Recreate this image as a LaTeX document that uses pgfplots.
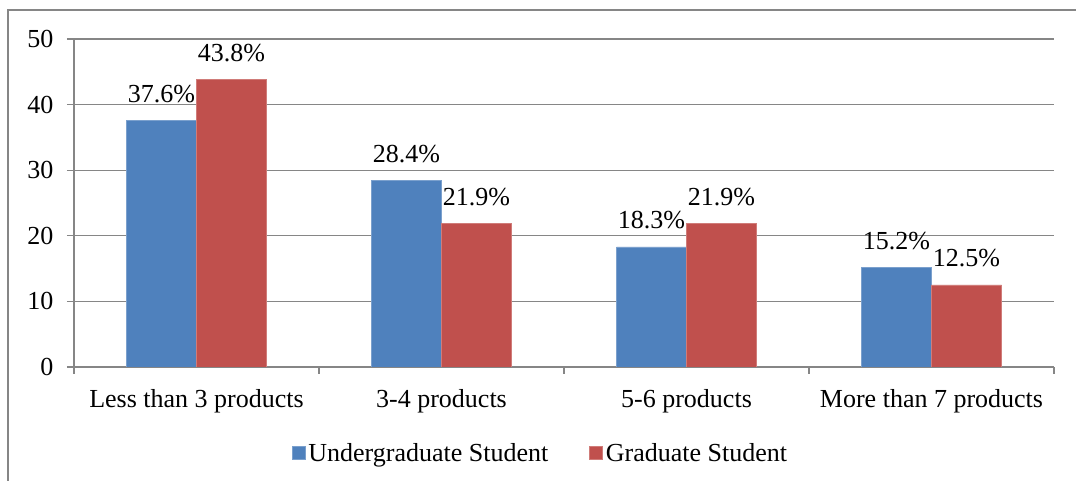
\documentclass[border=0pt]{standalone}
\usepackage{fontspec}
\setmainfont{Liberation Serif}
\usepackage{pgfplots}
\pgfplotsset{compat=1.18}
\definecolor{ugblue}{HTML}{4F81BD}
\definecolor{grred}{HTML}{C0504D}
\definecolor{linegray}{HTML}{868686}

\begin{document}
\begin{tikzpicture}[x=1bp, y=1bp, font=\fontsize{26bp}{31bp}\selectfont]
\useasboundingbox (0,0) rectangle (1076,481);
% outer chart frame (runs off the right and bottom edges)
\begin{scope}
  \clip (0,0) rectangle (1076,481);
  \draw[linegray, line width=1.5bp] (8,-20) -- (8,471) -- (1100,471);
\end{scope}
\begin{axis}[
  at={(74bp,114bp)}, anchor=south west,
  scale only axis, width=980bp, height=328bp,
  xmin=-0.5, xmax=3.5, ymin=0, ymax=50,
  ybar=0pt, bar width=70bp,
  axis x line*=bottom, axis y line*=left,
  axis line style={linegray, line width=1.2bp},
  ymajorgrids, grid style={linegray, line width=1.2bp},
  ytick={0,10,...,50},
  xtick={0,1,2,3},
  xticklabels={Less than 3 products, 3-4 products, 5-6 products, More than 7 products},
  minor xtick={-0.5,0.5,1.5,2.5,3.5},
  tick align=outside,
  tick style={linegray, line width=1.2bp},
  major tick length=7bp, minor tick length=7bp,
  every major x tick/.append style={draw=none},
  /pgf/number format/assume math mode=true,
  yticklabel style={xshift=-10bp},
  xticklabel style={yshift=-12bp},
  nodes near coords={\pgfmathprintnumber[fixed,fixed zerofill,precision=1]{\pgfplotspointmeta}\%},
  every node near coord/.append style={anchor=base, yshift=18bp, inner sep=0pt},
  legend columns=2,
  legend style={draw=none, fill=none, at={(0.4765,-0.262)}, anchor=center,
    /tikz/every even column/.append style={column sep=38bp},
    nodes={inner sep=3bp}},
  legend image code/.code={\fill[#1] (0bp,-6.5bp) rectangle (13bp,6.5bp);},
]
\addplot[fill=ugblue, draw=ugblue!75!white, line width=0.6bp]
  coordinates {(0,37.6) (1,28.4) (2,18.3) (3,15.2)};
\addplot[fill=grred, draw=grred!75!white, line width=0.6bp]
  coordinates {(0,43.8) (1,21.9) (2,21.9) (3,12.5)};
\legend{Undergraduate Student, Graduate Student}
\end{axis}
\end{tikzpicture}
\end{document}
